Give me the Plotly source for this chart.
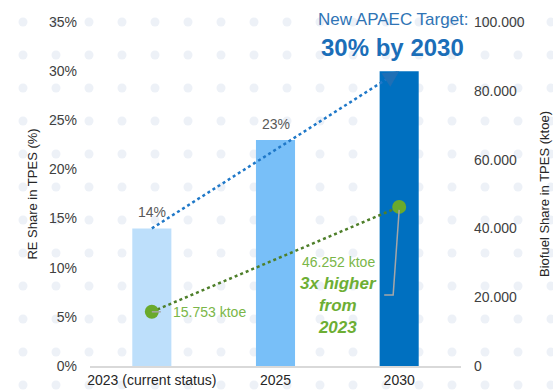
import numpy as np
import plotly.graph_objects as go

# ---- data ----
categories = ["2023 (current status)", "2025", "2030"]
re_share = [0.14, 0.23, 0.30]
re_labels = ["14%", "23%", ""]
bar_colors = ["#BDDFFB", "#78BFF8", "#0070C0"]
biofuel_years = ["2023 (current status)", "2030"]
biofuel_ktoe = [15753, 46252]
left_ticks = [0, 0.05, 0.10, 0.15, 0.20, 0.25, 0.30, 0.35]
right_ticks = [0, 20000, 40000, 60000, 80000, 100000]

W, H = 553, 392
FONT = "Liberation Sans, Arial, sans-serif"

def idx(name):
    return categories.index(name)

fig = go.Figure()

# decorative dotted background (pixel grid on a hidden full-page subplot)
gx, gy = np.meshgrid(23 + 33 * np.arange(17), 22 + 33 * np.arange(12))
fig.add_trace(go.Scatter(x=gx.ravel(), y=gy.ravel(), mode="markers",
                         marker=dict(size=9, color="rgb(237,241,247)"),
                         xaxis="x", yaxis="y", hoverinfo="skip", showlegend=False))

# bars
fig.add_trace(go.Bar(x=categories, y=re_share, marker=dict(color=bar_colors, line=dict(width=0)),
                     xaxis="x2", yaxis="y2", showlegend=False, width=0.316))

# blue dotted trend
fig.add_trace(go.Scatter(x=[categories[0], categories[2]], y=[re_share[0], re_share[2]],
                         mode="lines",
                         line=dict(color="#1F78C8", width=2.5, dash="dot"),
                         xaxis="x2", yaxis="y2", showlegend=False, cliponaxis=False))

# green biofuel line
fig.add_trace(go.Scatter(x=biofuel_years, y=biofuel_ktoe, mode="lines+markers",
                         line=dict(color="#4E7F2A", width=2.5, dash="dot"),
                         marker=dict(size=14, color="#6AAA2C"),
                         xaxis="x2", yaxis="y3", showlegend=False, cliponaxis=False))

ann = []
for c, v, t in zip(categories, re_share, re_labels):
    if t:
        ann.append(dict(x=idx(c), y=v, xref="x2", yref="y2", text=t, showarrow=False,
                        yshift=16, font=dict(family=FONT, size=14, color="#595959")))

# arrowhead at the end of the blue trend
ann.append(dict(x=idx(categories[2]), y=re_share[2], xref="x2", yref="y2", text="",
                showarrow=True, axref="pixel", ayref="pixel", ax=-12, ay=8,
                arrowhead=2, arrowsize=1.6, arrowwidth=2, arrowcolor="#1F6FB5",
                standoff=0))

def fmt(v):
    return f"{v:,}".replace(",", ".") + " ktoe"

ann.append(dict(x=idx(biofuel_years[0]), y=biofuel_ktoe[0], xref="x2", yref="y3",
                text=fmt(biofuel_ktoe[0]), showarrow=False, xanchor="left", xshift=19,
                font=dict(family=FONT, size=14, color="#7AB648")))
ann.append(dict(x=idx(biofuel_years[1]), y=biofuel_ktoe[1], xref="x2", yref="y3",
                text=fmt(biofuel_ktoe[1]), showarrow=False, xanchor="center",
                xshift=-61, yshift=-55,
                font=dict(family=FONT, size=14, color="#7AB648")))
ann.append(dict(x=idx(biofuel_years[1]), y=biofuel_ktoe[1], xref="x2", yref="y3",
                text="<b><i>3x higher<br>from<br>2023</i></b>", showarrow=False,
                xanchor="center", yanchor="middle", xshift=-61, yshift=-99,
                font=dict(family=FONT, size=17, color="#6DAE34")))

# title callout
ann.append(dict(x=393 / W, y=1 - 20 / H, xref="paper", yref="paper",
                xanchor="center", yanchor="middle",
                text="New APAEC Target:", showarrow=False,
                font=dict(family=FONT, size=17, color="#2F74B5")))
ann.append(dict(x=392 / W, y=1 - 47 / H, xref="paper", yref="paper",
                xanchor="center", yanchor="middle",
                text="<b>30% by 2030</b>", showarrow=False,
                font=dict(family=FONT, size=24, color="#1B6EB8")))

shapes = [
    dict(type="path", xref="x2", yref="y3", xsizemode="pixel", ysizemode="pixel",
         xanchor=idx(biofuel_years[1]), yanchor=biofuel_ktoe[1],
         path="M0,-3 L-6,-88 L-15,-88", line=dict(color="#A6A6A6", width=1.5)),
    dict(type="path", xref="x2", yref="y3", xsizemode="pixel", ysizemode="pixel",
         xanchor=idx(biofuel_years[0]), yanchor=biofuel_ktoe[0],
         path="M0,0 L9,0", line=dict(color="#A6A6A6", width=1.5)),
]

fig.update_layout(
    width=W, height=H,
    margin=dict(l=0, r=0, t=0, b=0, autoexpand=False),
    paper_bgcolor="white", plot_bgcolor="rgba(0,0,0,0)",
    separators=",.",
    bargap=0.684,
    annotations=ann, shapes=shapes,
    font=dict(family=FONT, size=14, color="#404040"),
    xaxis=dict(domain=[0, 1], range=[0, W], visible=False, fixedrange=True, automargin=False),
    yaxis=dict(domain=[0, 1], range=[H, 0], visible=False, fixedrange=True, automargin=False),
    xaxis2=dict(domain=[90 / W, 461 / W], anchor="y2", type="category",
                categoryorder="array", categoryarray=categories, range=[-0.5, 2.5],
                automargin=False,
                showline=True, linecolor="#D9D9D9", linewidth=2, showgrid=False,
                ticks="", tickfont=dict(size=14, color="#262626")),
    yaxis2=dict(domain=[26 / H, 370 / H], anchor="x2", range=[0, 0.35], automargin=False,
                tickvals=left_ticks, tickformat=".0%", showgrid=False, zeroline=False,
                showline=False, ticks="", ticklabelstandoff=12,
                tickfont=dict(size=14, color="#404040"),
                title=dict(text="RE Share in TPES (%)", standoff=8,
                           font=dict(size=13, color="#262626"))),
    yaxis3=dict(domain=[26 / H, 370 / H], anchor="x2", overlaying="y2", side="right",
                range=[0, 100000], tickvals=right_ticks, tickformat=",d", automargin=False,
                showgrid=False, zeroline=False, showline=False, ticks="",
                ticklabelstandoff=12, tickfont=dict(size=14, color="#404040"),
                title=dict(text="Biofuel Share in TPES (ktoe)", standoff=16,
                           font=dict(size=13, color="#262626"))),
)

fig.write_html("out.html")
